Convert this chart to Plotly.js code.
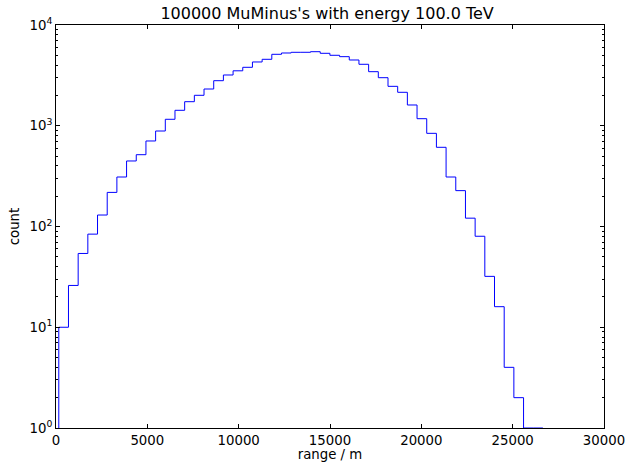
<!DOCTYPE html>
<html>
<head>
<meta charset="utf-8">
<script src="https://cdn.plot.ly/plotly-3.0.1.min.js"></script>
<style>html,body{margin:0;padding:0;background:#fff;}#chart{width:629px;height:462px;}</style>
</head>
<body>
<div id="chart"></div>
<script>
// Histogram of ranges: 50 bins between rangeMin and rangeMax (metres)
const rangeMin = 153;
const rangeMax = 26656;
const counts = [10, 26, 54, 84, 130, 218, 310, 447, 516, 706,
                887, 1159, 1423, 1733, 2005, 2316, 2800, 3190, 3510, 3802,
                4295, 4565, 5118, 5274, 5357, 5360, 5433, 5236, 5005, 4850,
                4495, 4074, 3441, 2999, 2462, 2148, 1607, 1175, 841, 611,
                310, 227, 121, 80, 32, 16, 4, 2, 1, 1];
const xTickVals = [0, 5000, 10000, 15000, 20000, 25000, 30000];
const yTickVals = [1, 10, 100, 1000, 10000];
const yTickText = ['10<sup>0</sup>', '10<sup>1</sup>', '10<sup>2</sup>', '10<sup>3</sup>', '10<sup>4</sup>'];
const yMinorVals = [];
for (let d = 1; d <= 1000; d *= 10) for (let k = 2; k <= 9; k++) yMinorVals.push(k * d);

const nBins = counts.length;
const width = (rangeMax - rangeMin) / nBins;
const edges = [];
for (let i = 0; i <= nBins; i++) edges.push(rangeMin + i * width);

const floorVal = 0.1;
const xs = [edges[0]];
const ys = [floorVal];
for (let i = 0; i < nBins; i++) { xs.push(edges[i]); ys.push(counts[i]); }
xs.push(edges[nBins]); ys.push(counts[nBins - 1]);
xs.push(edges[nBins]); ys.push(floorVal);

const font = {family: 'DejaVu Sans', size: 13.3, color: '#000'};
const axisCommon = {
  showline: true, linecolor: '#000', linewidth: 1, mirror: 'allticks',
  ticks: 'inside', ticklen: 4, tickwidth: 1, tickcolor: '#000',
  showgrid: false, zeroline: false, tickfont: font
};

Plotly.newPlot('chart', [{
  x: xs, y: ys, type: 'scatter', mode: 'lines',
  line: {shape: 'hv', color: '#0000ff', width: 1},
  hoverinfo: 'skip'
}], {
  width: 629, height: 462,
  margin: {l: 56, r: 25, t: 25, b: 34, pad: 0},
  paper_bgcolor: '#fff', plot_bgcolor: '#fff',
  showlegend: false,
  font: font,
  title: {text: "100000 MuMinus's with energy 100.0 TeV", font: {family: 'DejaVu Sans', size: 16, color: '#000'}, x: 0.52, xanchor: 'center', y: 0.972, yanchor: 'middle'},
  xaxis: Object.assign({}, axisCommon, {
    range: [0, 30000], tickmode: 'array', tickvals: xTickVals, ticktext: xTickVals.map(String),
    title: {text: 'range / m', font: font, standoff: 2}
  }),
  yaxis: Object.assign({}, axisCommon, {
    type: 'log', range: [0, 4], tickmode: 'array', tickvals: yTickVals, ticktext: yTickText,
    minor: {tickmode: 'array', tickvals: yMinorVals, ticks: 'inside', ticklen: 2, tickcolor: '#000', tickwidth: 1, showgrid: false},
    title: {text: 'count', font: font, standoff: 6}
  })
}, {staticPlot: true, displayModeBar: false});
</script>
</body>
</html>
